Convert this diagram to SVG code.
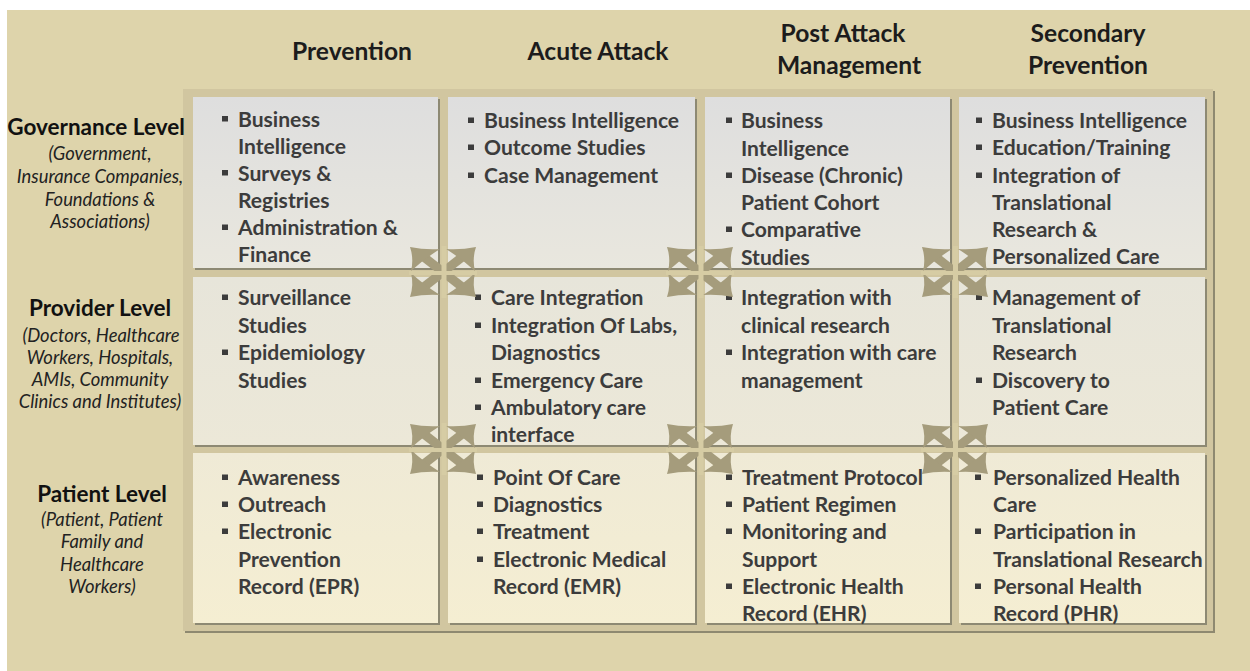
<svg xmlns="http://www.w3.org/2000/svg" xmlns:xlink="http://www.w3.org/1999/xlink" width="1250" height="671" viewBox="0 0 1250 671">
<defs>
<style>
.hdr{font-family:Lato,"Open Sans",sans-serif;font-weight:700;font-size:24.6px;fill:#1c1c1c;text-anchor:middle}
.lvl{font-family:Lato,"Open Sans",sans-serif;font-weight:700;font-size:22.5px;fill:#111;text-anchor:middle}
.sub{font-family:Lato,"Open Sans",sans-serif;font-style:italic;font-size:18.4px;fill:#222;text-anchor:middle}
.t{font-family:Lato,"Open Sans",sans-serif;font-weight:700;font-size:21.1px;fill:#3c3c3c}
.b{fill:#3c3c3c}
.sh{fill:#8d8973}
.arr{fill:#a59c7c}
.band{fill:#d6cca4}
</style>
<linearGradient id="g1" x1="0" y1="0" x2="0" y2="1"><stop offset="0" stop-color="#dedede"/><stop offset="1" stop-color="#e9e7de"/></linearGradient>
<linearGradient id="g2" x1="0" y1="0" x2="0" y2="1"><stop offset="0" stop-color="#e7e5da"/><stop offset="1" stop-color="#ece8d8"/></linearGradient>
<linearGradient id="g3" x1="0" y1="0" x2="0" y2="1"><stop offset="0" stop-color="#efead6"/><stop offset="1" stop-color="#f5eed2"/></linearGradient>
<g id="one">
<line x1="0" y1="0" x2="20" y2="-15.6" stroke="#a59c7c" stroke-width="9"/>
<path class="arr" d="M33,-25 Q18,-22 3,-23 Q19,-13 32,-1 Q29,-13 33,-25 Z"/>
</g>
<g id="x4">
<use xlink:href="#one"/>
<use xlink:href="#one" transform="scale(-1,1)"/>
<use xlink:href="#one" transform="scale(1,-1)"/>
<use xlink:href="#one" transform="scale(-1,-1)"/>
</g>
</defs>
<rect x="7" y="10" width="1243" height="661" fill="#ded4ab"/>
<g id="frame">
<rect x="185" y="91" width="1030" height="542" fill="#8e8970"/>
<rect x="183" y="89" width="1030" height="542" fill="#d1c6a0"/>
</g>
<g id="headers">
<text class="hdr" x="352" y="60">Prevention</text>
<text class="hdr" x="598" y="60">Acute Attack</text>
<text class="hdr" x="843" y="42">Post Attack</text>
<text class="hdr" x="849" y="74">Management</text>
<text class="hdr" x="1088" y="42">Secondary</text>
<text class="hdr" x="1088" y="74">Prevention</text>
</g>
<g id="row-governance">
<text class="lvl" x="96" y="135">Governance Level</text>
<text class="sub" x="100" y="160">(Government,</text>
<text class="sub" x="100" y="183">Insurance Companies,</text>
<text class="sub" x="100" y="206">Foundations &amp;</text>
<text class="sub" x="100" y="228">Associations)</text>
</g>
<g id="row-provider">
<text class="lvl" x="100" y="316">Provider Level</text>
<text class="sub" x="101" y="342">(Doctors, Healthcare</text>
<text class="sub" x="100" y="364">Workers, Hospitals,</text>
<text class="sub" x="100" y="386">AMIs, Community</text>
<text class="sub" x="100" y="408">Clinics and Institutes)</text>
</g>
<g id="row-patient">
<text class="lvl" x="102" y="502">Patient Level</text>
<text class="sub" x="102" y="526">(Patient, Patient</text>
<text class="sub" x="102" y="548">Family and</text>
<text class="sub" x="102" y="571">Healthcare</text>
<text class="sub" x="102" y="593">Workers)</text>
</g>
<g id="cell-gov-prevention">
<rect class="sh" x="195" y="99" width="245" height="171"/><rect x="193" y="97" width="245" height="171" fill="url(#g1)"/>
<rect class="b" x="222" y="116" width="6" height="5.5"/><text class="t" x="238" y="126.5">Business</text>
<text class="t" x="238" y="153.5">Intelligence</text>
<rect class="b" x="222" y="170" width="6" height="5.5"/><text class="t" x="238" y="180.5">Surveys &amp;</text>
<text class="t" x="238" y="207.5">Registries</text>
<rect class="b" x="222" y="224.5" width="6" height="5.5"/><text class="t" x="238" y="235">Administration &amp;</text>
<text class="t" x="238" y="262">Finance</text>
</g>
<g id="cell-gov-acute">
<rect class="sh" x="450" y="99" width="247" height="171"/><rect x="448" y="97" width="247" height="171" fill="url(#g1)"/>
<rect class="b" x="468" y="117.5" width="6" height="5.5"/><text class="t" x="484" y="128">Business Intelligence</text>
<rect class="b" x="468" y="144.5" width="6" height="5.5"/><text class="t" x="484" y="155">Outcome Studies</text>
<rect class="b" x="468" y="172.5" width="6" height="5.5"/><text class="t" x="484" y="183">Case Management</text>
</g>
<g id="cell-gov-post">
<rect class="sh" x="707" y="99" width="245" height="171"/><rect x="705" y="97" width="245" height="171" fill="url(#g1)"/>
<rect class="b" x="726" y="117.5" width="6" height="5.5"/><text class="t" x="741" y="128">Business</text>
<text class="t" x="741" y="156">Intelligence</text>
<rect class="b" x="726" y="172.5" width="6" height="5.5"/><text class="t" x="741" y="183">Disease (Chronic)</text>
<text class="t" x="741" y="210">Patient Cohort</text>
<rect class="b" x="726" y="226.5" width="6" height="5.5"/><text class="t" x="741" y="237">Comparative</text>
<text class="t" x="741" y="265">Studies</text>
</g>
<g id="cell-gov-secondary">
<rect class="sh" x="961" y="99" width="246" height="171"/><rect x="959" y="97" width="246" height="171" fill="url(#g1)"/>
<rect class="b" x="976" y="117.5" width="6" height="5.5"/><text class="t" x="992" y="128">Business Intelligence</text>
<rect class="b" x="976" y="144.5" width="6" height="5.5"/><text class="t" x="992" y="155">Education/Training</text>
<rect class="b" x="976" y="172.5" width="6" height="5.5"/><text class="t" x="992" y="183">Integration of</text>
<text class="t" x="992" y="210">Translational</text>
<text class="t" x="992" y="237">Research &amp;</text>
<text class="t" x="992" y="264">Personalized Care</text>
</g>
<g id="cell-prov-prevention">
<rect class="sh" x="195" y="279" width="245" height="168"/><rect x="193" y="277" width="245" height="168" fill="url(#g2)"/>
<rect class="b" x="222" y="294.5" width="6" height="5.5"/><text class="t" x="238" y="305">Surveillance</text>
<text class="t" x="238" y="333">Studies</text>
<rect class="b" x="222" y="349.5" width="6" height="5.5"/><text class="t" x="238" y="360">Epidemiology</text>
<text class="t" x="238" y="388">Studies</text>
</g>
<g id="cell-prov-acute">
<rect class="sh" x="450" y="279" width="247" height="168"/><rect x="448" y="277" width="247" height="168" fill="url(#g2)"/>
<rect class="b" x="475" y="294.5" width="6" height="5.5"/><text class="t" x="491" y="305">Care Integration</text>
<rect class="b" x="475" y="322.5" width="6" height="5.5"/><text class="t" x="491" y="333">Integration Of Labs,</text>
<text class="t" x="491" y="360">Diagnostics</text>
<rect class="b" x="475" y="377.5" width="6" height="5.5"/><text class="t" x="491" y="388">Emergency Care</text>
<rect class="b" x="475" y="404.5" width="6" height="5.5"/><text class="t" x="491" y="415">Ambulatory care</text>
<text class="t" x="491" y="442">interface</text>
</g>
<g id="cell-prov-post">
<rect class="sh" x="707" y="279" width="245" height="168"/><rect x="705" y="277" width="245" height="168" fill="url(#g2)"/>
<rect class="b" x="726" y="294.5" width="6" height="5.5"/><text class="t" x="741" y="305">Integration with</text>
<text class="t" x="741" y="333">clinical research</text>
<rect class="b" x="726" y="349.5" width="6" height="5.5"/><text class="t" x="741" y="360">Integration with care</text>
<text class="t" x="741" y="388">management</text>
</g>
<g id="cell-prov-secondary">
<rect class="sh" x="961" y="279" width="246" height="168"/><rect x="959" y="277" width="246" height="168" fill="url(#g2)"/>
<rect class="b" x="976" y="294.5" width="6" height="5.5"/><text class="t" x="992" y="305">Management of</text>
<text class="t" x="992" y="333">Translational</text>
<text class="t" x="992" y="360">Research</text>
<rect class="b" x="976" y="377.5" width="6" height="5.5"/><text class="t" x="992" y="388">Discovery to</text>
<text class="t" x="992" y="415">Patient Care</text>
</g>
<g id="cell-pat-prevention">
<rect class="sh" x="195" y="455" width="245" height="170"/><rect x="193" y="453" width="245" height="170" fill="url(#g3)"/>
<rect class="b" x="222" y="474.5" width="6" height="5.5"/><text class="t" x="238" y="485">Awareness</text>
<rect class="b" x="222" y="501.5" width="6" height="5.5"/><text class="t" x="238" y="512">Outreach</text>
<rect class="b" x="222" y="528.5" width="6" height="5.5"/><text class="t" x="238" y="539">Electronic</text>
<text class="t" x="238" y="567">Prevention</text>
<text class="t" x="238" y="594">Record (EPR)</text>
</g>
<g id="cell-pat-acute">
<rect class="sh" x="450" y="455" width="247" height="170"/><rect x="448" y="453" width="247" height="170" fill="url(#g3)"/>
<rect class="b" x="477" y="474.5" width="6" height="5.5"/><text class="t" x="493" y="485">Point Of Care</text>
<rect class="b" x="477" y="501.5" width="6" height="5.5"/><text class="t" x="493" y="512">Diagnostics</text>
<rect class="b" x="477" y="528.5" width="6" height="5.5"/><text class="t" x="493" y="539">Treatment</text>
<rect class="b" x="477" y="556.5" width="6" height="5.5"/><text class="t" x="493" y="567">Electronic Medical</text>
<text class="t" x="493" y="594">Record (EMR)</text>
</g>
<g id="cell-pat-post">
<rect class="sh" x="707" y="455" width="245" height="170"/><rect x="705" y="453" width="245" height="170" fill="url(#g3)"/>
<rect class="b" x="726" y="474.5" width="6" height="5.5"/><text class="t" x="742" y="485">Treatment Protocol</text>
<rect class="b" x="726" y="501.5" width="6" height="5.5"/><text class="t" x="742" y="512">Patient Regimen</text>
<rect class="b" x="726" y="528.5" width="6" height="5.5"/><text class="t" x="742" y="539">Monitoring and</text>
<text class="t" x="742" y="567">Support</text>
<rect class="b" x="726" y="583.5" width="6" height="5.5"/><text class="t" x="742" y="594">Electronic Health</text>
<text class="t" x="742" y="621">Record (EHR)</text>
</g>
<g id="cell-pat-secondary">
<rect class="sh" x="961" y="455" width="246" height="170"/><rect x="959" y="453" width="246" height="170" fill="url(#g3)"/>
<rect class="b" x="975" y="474.5" width="6" height="5.5"/><text class="t" x="993" y="485">Personalized Health</text>
<text class="t" x="993" y="512">Care</text>
<rect class="b" x="975" y="528.5" width="6" height="5.5"/><text class="t" x="993" y="539">Participation in</text>
<text class="t" x="993" y="567">Translational Research</text>
<rect class="b" x="975" y="583.5" width="6" height="5.5"/><text class="t" x="993" y="594">Personal Health</text>
<text class="t" x="993" y="621">Record (PHR)</text>
</g>
<g id="connectors">
<use xlink:href="#x4" transform="translate(443,272)"/>
<use xlink:href="#x4" transform="translate(700,272)"/>
<use xlink:href="#x4" transform="translate(955,272)"/>
<use xlink:href="#x4" transform="translate(443,449)"/>
<use xlink:href="#x4" transform="translate(700,449)"/>
<use xlink:href="#x4" transform="translate(955,449)"/>
<rect class="band" x="441.5" y="246" width="5" height="52"/>
<rect class="band" x="698.5" y="246" width="5" height="52"/>
<rect class="band" x="953" y="246" width="5" height="52"/>
<rect class="band" x="441.5" y="423" width="5" height="52"/>
<rect class="band" x="698.5" y="423" width="5" height="52"/>
<rect class="band" x="953" y="423" width="5" height="52"/>
<rect class="band" x="409" y="271" width="68" height="4"/>
<rect class="band" x="666" y="271" width="68" height="4"/>
<rect class="band" x="921" y="271" width="68" height="4"/>
<rect class="band" x="409" y="448" width="68" height="4"/>
<rect class="band" x="666" y="448" width="68" height="4"/>
<rect class="band" x="921" y="448" width="68" height="4"/>
</g>
</svg>
